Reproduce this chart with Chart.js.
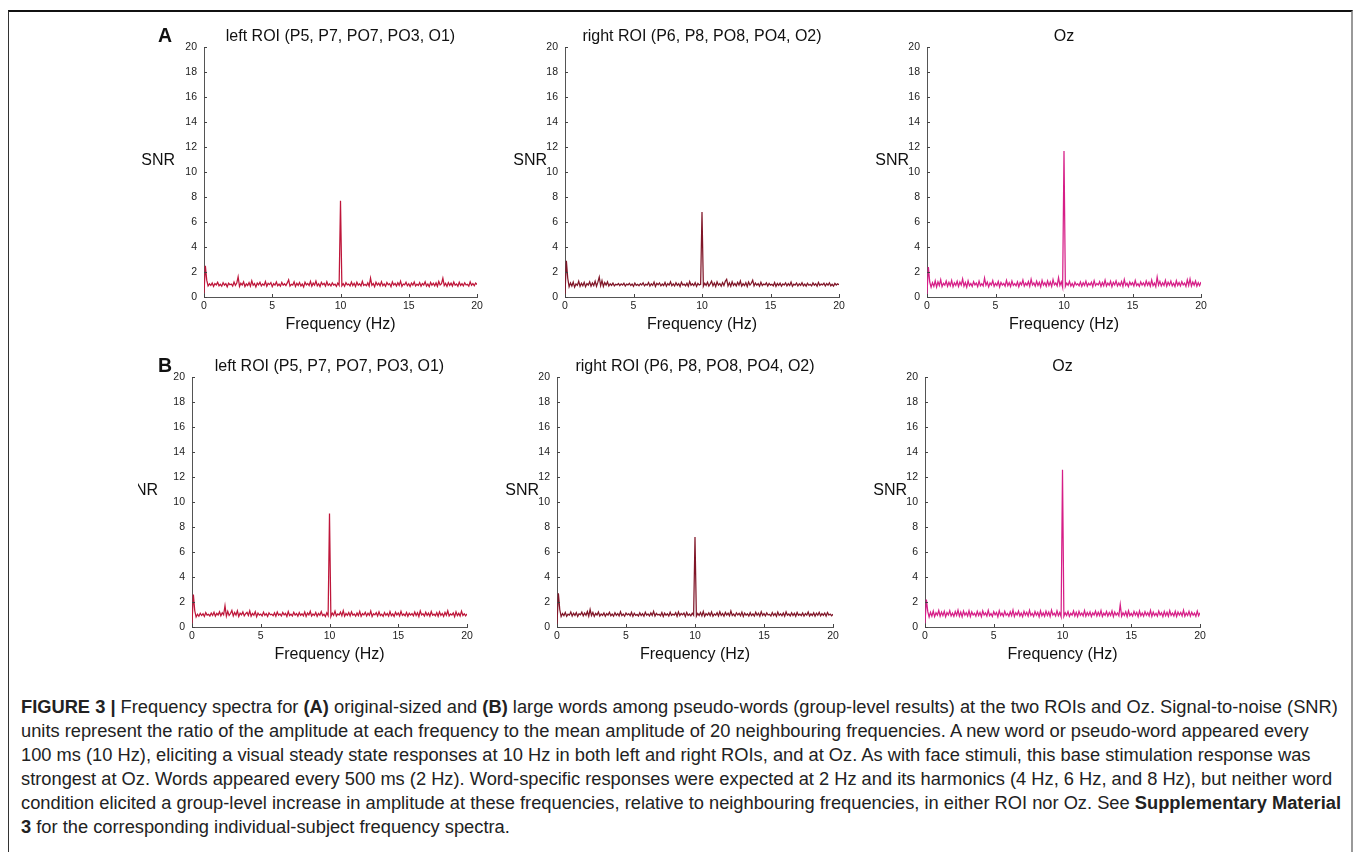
<!DOCTYPE html>
<html>
<head>
<meta charset="utf-8">
<script src="https://cdn.jsdelivr.net/npm/chart.js@4.4.1/dist/chart.umd.min.js"></script>
<style>
  body { margin: 0; width: 1358px; height: 852px; position: relative; overflow: hidden; background: #fff;
         font-family: "Liberation Sans", Arial, Helvetica, sans-serif; color: #111; }
  #frame { position: absolute; left: 8px; top: 10px; width: 1345px; height: 900px;
           border-top: 2px solid #111; border-left: 1px solid #333; border-right: 2px solid #999; box-sizing: border-box; }
  canvas { position: absolute; }
  .lbl { position: absolute; white-space: nowrap; }
  .cap { position: absolute; left: 21px; font-size: 18.3px; line-height: 18px; white-space: nowrap; color: #222; }
  .cap b { font-weight: bold; }
</style>
</head>
<body>
<div id="frame"></div>

<div class="cap" style="top:698px"><b>FIGURE 3 |</b> Frequency spectra for <b>(A)</b> original-sized and <b>(B)</b> large words among pseudo-words (group-level results) at the two ROIs and Oz. Signal-to-noise (SNR)</div>
<div class="cap" style="top:722px">units represent the ratio of the amplitude at each frequency to the mean amplitude of 20 neighbouring frequencies. A new word or pseudo-word appeared every</div>
<div class="cap" style="top:746px">100 ms (10 Hz), eliciting a visual steady state responses at 10 Hz in both left and right ROIs, and at Oz. As with face stimuli, this base stimulation response was</div>
<div class="cap" style="top:770px">strongest at Oz. Words appeared every 500 ms (2 Hz). Word-specific responses were expected at 2 Hz and its harmonics (4 Hz, 6 Hz, and 8 Hz), but neither word</div>
<div class="cap" style="top:794px">condition elicited a group-level increase in amplitude at these frequencies, relative to neighbouring frequencies, in either ROI nor Oz. See <b>Supplementary Material</b></div>
<div class="cap" style="top:818px"><b>3</b> for the corresponding individual-subject frequency spectra.</div>

<script>
// frequency bins are 0.1 Hz apart, 0 .. 20 Hz
const FREQ_STEP = 0.1;
const xTickValues = [0, 5, 10, 15, 20];
const yMax = 20;

const panelTitles = [
  'left ROI (P5, P7, PO7, PO3, O1)', 'right ROI (P6, P8, PO8, PO4, O2)', 'Oz',
  'left ROI (P5, P7, PO7, PO3, O1)', 'right ROI (P6, P8, PO8, PO4, O2)', 'Oz'
];

// SNR, row A (original-sized words)
const snrLeftA = [
  0.30, 2.50, 1.35, 0.88, 1.05, 0.92, 1.12, 0.85, 1.08, 0.97, 1.18, 0.90, 1.02, 0.86, 1.15, 0.95, 1.07, 0.82, 1.10, 0.98,
  1.04, 0.88, 1.20, 0.93, 1.12, 1.62, 0.85, 1.10, 0.96, 1.22, 0.84, 1.05, 0.92, 1.16, 0.87, 1.30, 0.94, 1.08, 0.81, 1.12,
  0.97, 1.18, 0.89, 1.05, 0.93, 1.24, 0.86, 1.09, 0.99, 1.15, 0.83, 1.07, 0.95, 1.20, 0.90, 1.03, 0.87, 1.17, 0.94, 1.06,
  0.91, 1.13, 1.38, 0.88, 1.02, 0.96, 1.21, 0.85, 1.10, 0.93, 1.16, 0.89, 1.04, 0.80, 1.19, 0.97, 1.08, 0.92, 1.25, 0.86,
  1.11, 0.95, 1.28, 0.90, 1.06, 0.84, 1.17, 0.98, 1.09, 0.87, 1.22, 0.93, 1.05, 0.88, 1.14, 0.96, 1.03, 0.85, 1.12, 0.94,
  7.70, 0.90, 1.07, 0.86, 1.15, 0.97, 1.04, 0.89, 1.20, 0.92, 1.10, 0.84, 1.18, 0.95, 1.06, 0.88, 1.26, 0.93, 1.02, 0.90,
  1.13, 0.87, 1.52, 0.94, 1.08, 0.82, 1.19, 0.96, 1.11, 0.89, 1.23, 0.91, 1.05, 0.86, 1.16, 0.98, 1.07, 0.83, 1.21, 0.95,
  1.09, 0.88, 1.14, 0.93, 1.27, 0.85, 1.04, 0.97, 1.18, 0.90, 1.06, 0.84, 1.12, 0.95, 1.20, 0.89, 1.03, 0.92, 1.15, 0.87,
  1.08, 0.96, 1.22, 0.88, 1.05, 0.83, 1.17, 0.94, 1.10, 0.90, 1.13, 0.86, 1.24, 0.97, 1.06, 1.50, 0.91, 1.09, 0.85, 1.16,
  0.93, 1.11, 0.88, 1.20, 0.95, 1.04, 0.86, 1.18, 0.92, 1.07, 0.89, 1.14, 0.96, 1.02, 0.87, 1.21, 0.94, 1.08, 0.90, 1.12,
  1.00
];
const snrRightA = [
  0.20, 2.90, 1.50, 0.82, 1.12, 0.88, 1.20, 0.79, 1.05, 0.93, 1.26, 0.85, 1.10, 0.90, 1.18, 0.83, 1.08, 0.96, 1.22, 0.87,
  1.13, 0.92, 1.27, 0.86, 1.19, 1.60, 0.90, 1.31, 0.84, 1.15, 0.95, 1.21, 0.88, 1.06, 0.93, 1.12, 0.89, 1.02, 0.97, 1.08,
  0.91, 1.05, 0.95, 1.10, 0.88, 1.03, 0.97, 1.09, 0.92, 1.04, 0.86, 1.12, 0.94, 1.01, 0.90, 1.07, 0.96, 1.14, 0.89, 1.03,
  0.95, 1.16, 0.87, 1.06, 0.93, 1.20, 0.85, 1.09, 0.98, 1.13, 0.89, 1.04, 0.92, 1.17, 0.86, 1.08, 0.95, 1.22, 0.90, 1.05,
  0.88, 1.14, 0.93, 1.07, 0.84, 1.19, 0.96, 1.03, 0.90, 1.11, 0.87, 1.24, 0.94, 1.06, 0.91, 1.15, 0.85, 1.09, 0.97, 1.02,
  6.80, 0.86, 1.10, 0.93, 1.18, 0.88, 1.05, 1.27, 0.90, 1.12, 0.84, 1.21, 0.95, 1.08, 0.87, 1.16, 0.92, 1.25, 1.42, 0.89,
  1.14, 0.86, 1.22, 0.93, 1.09, 0.88, 1.17, 0.95, 1.28, 0.87, 1.06, 0.91, 1.15, 0.84, 1.20, 0.96, 1.10, 1.35, 0.89, 1.12,
  0.94, 1.07, 0.86, 1.18, 0.92, 1.04, 0.97, 1.13, 0.88, 1.09, 0.95, 1.02, 0.90, 1.16, 0.85, 1.08, 0.93, 1.11, 0.87, 1.05,
  0.96, 1.14, 0.89, 1.07, 0.92, 1.19, 0.86, 1.03, 0.95, 1.12, 0.88, 1.06, 0.93, 1.15, 0.90, 1.04, 0.87, 1.10, 0.94, 1.01,
  0.89, 1.13, 0.95, 1.06, 0.86, 1.17, 0.92, 1.03, 0.97, 1.11, 0.88, 1.07, 0.94, 1.14, 0.90, 1.02, 0.87, 1.09, 0.96, 1.05,
  0.98
];
const snrOzA = [
  0.25, 2.40, 1.20, 0.78, 1.15, 0.85, 1.30, 0.80, 1.22, 0.92, 1.38, 0.83, 1.10, 0.95, 1.28, 0.86, 1.18, 0.90, 1.33, 0.82,
  1.14, 0.93, 1.26, 0.84, 1.20, 0.96, 1.45, 0.87, 1.16, 0.79, 1.29, 0.91, 1.08, 0.85, 1.23, 0.97, 1.12, 0.83, 1.27, 0.90,
  1.06, 0.88, 1.52, 0.94, 1.19, 0.81, 1.13, 0.96, 1.31, 0.86, 1.10, 0.92, 1.25, 0.80, 1.17, 0.95, 1.09, 0.87, 1.34, 0.91,
  1.15, 0.84, 1.28, 0.93, 1.07, 0.89, 1.21, 0.82, 1.16, 0.97, 1.36, 0.88, 1.11, 0.94, 1.24, 0.85, 1.42, 0.96, 1.13, 0.87,
  1.26, 0.92, 1.18, 0.80, 1.33, 0.95, 1.14, 0.86, 1.29, 0.91, 1.20, 0.84, 1.39, 0.97, 1.12, 0.89, 1.55, 0.93, 1.22, 0.78,
  11.70, 0.85, 1.12, 0.94, 1.25, 0.88, 1.09, 0.83, 1.18, 0.96, 1.06, 0.90, 1.21, 0.86, 1.14, 0.93, 1.27, 0.87, 1.10, 0.95,
  1.19, 0.84, 1.31, 0.92, 1.08, 0.97, 1.23, 0.85, 1.16, 0.90, 1.35, 0.88, 1.12, 0.94, 1.26, 0.82, 1.17, 0.96, 1.29, 0.89,
  1.13, 0.91, 1.24, 0.86, 1.40, 0.93, 1.11, 0.84, 1.20, 0.97, 1.15, 0.88, 1.32, 0.92, 1.07, 0.85, 1.22, 0.95, 1.14, 0.89,
  1.28, 0.94, 1.18, 0.87, 1.36, 0.90, 1.12, 0.83, 1.60, 0.96, 1.25, 0.88, 1.14, 0.92, 1.33, 0.86, 1.19, 0.95, 1.27, 0.90,
  1.11, 0.84, 1.30, 0.93, 1.16, 0.89, 1.24, 0.96, 1.12, 0.85, 1.37, 0.92, 1.45, 0.88, 1.20, 0.94, 1.28, 0.86, 1.15, 0.91,
  1.20
];

// SNR, row B (large words)
const snrLeftB = [
  0.30, 2.60, 1.30, 0.80, 1.02, 0.86, 1.10, 0.92, 1.06, 0.84, 1.15, 0.95, 1.01, 0.88, 1.12, 0.93, 1.18, 0.87, 1.09, 0.96,
  1.22, 0.90, 1.14, 0.97, 1.70, 0.86, 1.25, 0.93, 1.08, 1.33, 0.88, 1.16, 0.95, 1.29, 0.84, 1.11, 0.98, 1.21, 0.89, 1.06,
  1.17, 0.92, 1.30, 0.87, 1.09, 0.95, 1.23, 0.83, 1.12, 0.96, 1.04, 0.89, 1.19, 0.93, 1.07, 0.85, 1.14, 0.98, 1.02, 0.90,
  1.13, 0.86, 1.20, 0.94, 1.05, 0.88, 1.16, 0.97, 1.09, 0.84, 1.24, 0.92, 1.03, 0.89, 1.18, 0.95, 1.08, 0.87, 1.15, 0.93,
  1.06, 0.90, 1.21, 0.85, 1.12, 0.97, 1.26, 0.88, 1.04, 0.93, 1.17, 0.86, 1.09, 0.95, 1.23, 0.91, 1.02, 0.84, 1.14, 0.92,
  9.10, 0.83, 1.11, 0.94, 1.27, 0.88, 1.05, 0.96, 1.19, 0.90, 1.31, 0.86, 1.08, 0.93, 1.16, 0.89, 1.22, 0.95, 1.04, 0.87,
  1.13, 0.91, 1.25, 0.85, 1.07, 0.96, 1.18, 0.88, 1.10, 0.93, 1.28, 0.84, 1.06, 0.97, 1.15, 0.89, 1.21, 0.92, 1.03, 0.86,
  1.16, 0.94, 1.09, 0.87, 1.23, 0.91, 1.05, 0.85, 1.19, 0.96, 1.12, 0.88, 1.26, 0.93, 1.04, 0.90, 1.17, 0.86, 1.10, 0.95,
  1.07, 0.89, 1.20, 0.92, 1.14, 0.84, 1.29, 0.96, 1.06, 0.88, 1.18, 0.93, 1.11, 0.87, 1.24, 0.95, 1.03, 0.90, 1.15, 0.86,
  1.21, 0.92, 1.08, 0.85, 1.17, 0.94, 1.30, 0.88, 1.05, 0.96, 1.13, 0.83, 1.22, 0.91, 1.09, 0.87, 1.27, 0.93, 1.06, 0.89,
  1.05
];
const snrRightB = [
  0.20, 2.70, 1.40, 0.84, 1.08, 0.91, 1.17, 0.86, 1.03, 0.95, 1.21, 0.88, 1.10, 0.93, 1.15, 0.85, 1.06, 0.97, 1.19, 0.89,
  1.12, 0.94, 1.24, 0.87, 1.40, 0.92, 1.16, 0.85, 1.09, 0.96, 1.20, 0.88, 1.05, 0.93, 1.13, 0.86, 1.07, 0.95, 1.18, 0.90,
  1.03, 0.87, 1.15, 0.94, 1.08, 0.89, 1.22, 0.91, 1.04, 0.86, 1.12, 0.97, 1.06, 0.90, 1.17, 0.85, 1.10, 0.93, 1.01, 0.88,
  1.14, 0.92, 1.07, 0.86, 1.19, 0.95, 1.05, 0.89, 1.13, 0.93, 1.25, 0.87, 1.09, 0.96, 1.02, 0.90, 1.16, 0.84, 1.11, 0.94,
  1.06, 0.88, 1.18, 0.92, 1.03, 0.95, 1.14, 0.86, 1.21, 0.91, 1.08, 0.97, 1.12, 0.85, 1.17, 0.93, 1.04, 0.89, 1.10, 0.94,
  7.20, 0.87, 1.09, 0.93, 1.16, 0.89, 1.24, 0.85, 1.07, 0.95, 1.13, 0.90, 1.20, 0.86, 1.05, 0.94, 1.15, 0.88, 1.22, 0.92,
  1.08, 0.86, 1.17, 0.95, 1.11, 0.89, 1.28, 0.92, 1.04, 0.87, 1.14, 0.96, 1.09, 0.90, 1.19, 0.85, 1.12, 0.94, 1.06, 0.88,
  1.15, 0.91, 1.05, 0.87, 1.18, 0.94, 1.10, 0.86, 1.23, 0.93, 1.07, 0.89, 1.13, 0.96, 1.02, 0.88, 1.16, 0.92, 1.08, 0.85,
  1.19, 0.93, 1.06, 0.90, 1.12, 0.87, 1.21, 0.95, 1.04, 0.89, 1.15, 0.92, 1.09, 0.86, 1.17, 0.94, 1.03, 0.91, 1.13, 0.87,
  1.08, 0.95, 1.20, 0.88, 1.05, 0.92, 1.14, 0.86, 1.10, 0.94, 1.18, 0.89, 1.07, 0.93, 1.12, 0.87, 1.16, 0.95, 1.04, 0.90,
  1.02
];
const snrOzB = [
  0.30, 2.20, 1.25, 0.80, 1.18, 0.87, 1.28, 0.83, 1.14, 0.95, 1.32, 0.86, 1.20, 0.91, 1.26, 0.82, 1.16, 0.96, 1.30, 0.88,
  1.12, 0.85, 1.24, 0.93, 1.35, 0.87, 1.19, 0.81, 1.27, 0.94, 1.15, 0.88, 1.30, 0.84, 1.21, 0.96, 1.10, 0.86, 1.25, 0.92,
  1.17, 0.83, 1.29, 0.95, 1.13, 0.88, 1.34, 0.90, 1.08, 0.85, 1.23, 0.97, 1.16, 0.82, 1.31, 0.93, 1.11, 0.87, 1.26, 0.94,
  1.09, 0.86, 1.22, 0.91, 1.36, 0.84, 1.15, 0.96, 1.28, 0.89, 1.12, 0.83, 1.25, 0.95, 1.18, 0.87, 1.33, 0.92, 1.10, 0.85,
  1.24, 0.94, 1.17, 0.81, 1.30, 0.90, 1.13, 0.86, 1.27, 0.93, 1.19, 0.84, 1.35, 0.96, 1.11, 0.88, 1.29, 0.91, 1.16, 0.82,
  12.60, 0.86, 1.14, 0.92, 1.23, 0.85, 1.10, 0.95, 1.28, 0.88, 1.17, 0.83, 1.25, 0.94, 1.12, 0.89, 1.31, 0.86, 1.15, 0.93,
  1.21, 0.84, 1.13, 0.96, 1.27, 0.88, 1.18, 0.91, 1.32, 0.85, 1.11, 0.94, 1.24, 0.87, 1.16, 0.92, 1.29, 0.83, 1.20, 0.95,
  1.12, 0.89, 1.80, 0.86, 1.14, 0.93, 1.22, 0.84, 1.30, 0.91, 1.09, 0.87, 1.25, 0.95, 1.17, 0.82, 1.28, 0.90, 1.12, 0.86,
  1.23, 0.94, 1.15, 0.88, 1.33, 0.85, 1.19, 0.92, 1.10, 0.87, 1.27, 0.96, 1.14, 0.83, 1.24, 0.90, 1.18, 0.86, 1.31, 0.93,
  1.12, 0.88, 1.26, 0.84, 1.20, 0.95, 1.16, 0.89, 1.34, 0.86, 1.13, 0.92, 1.25, 0.87, 1.19, 0.94, 1.11, 0.85, 1.28, 0.90,
  1.15
];

// panel placement: plot area edges in page pixels, SNR label right edge and left clip
const panels = [
  { series: snrLeftA,  color: 'rgb(190, 22, 58)',  left: 204, right: 477,  top: 42,  bottom: 297, snrRight: 175, clip: 0 },
  { series: snrRightA, color: 'rgb(128, 22, 40)',  left: 565, right: 839,  top: 42,  bottom: 297, snrRight: 547, clip: 0 },
  { series: snrOzA,    color: 'rgb(214, 30, 135)', left: 927, right: 1201, top: 42,  bottom: 297, snrRight: 909, clip: 0 },
  { series: snrLeftB,  color: 'rgb(190, 22, 58)',  left: 192, right: 467,  top: 372, bottom: 627, snrRight: 158, clip: 138 },
  { series: snrRightB, color: 'rgb(128, 22, 40)',  left: 557, right: 833,  top: 372, bottom: 627, snrRight: 539, clip: 0 },
  { series: snrOzB,    color: 'rgb(214, 30, 135)', left: 925, right: 1200, top: 372, bottom: 627, snrRight: 907, clip: 0 }
];

const PAD_L = 40, PAD_R = 14, PAD_T = 8, PAD_B = 24;

// MATLAB style ticks pointing into the axes
const inwardTicks = {
  id: 'inwardTicks',
  afterDraw(chart) {
    const { ctx, chartArea: a, scales: { x, y } } = chart;
    ctx.save();
    ctx.strokeStyle = '#444';
    ctx.lineWidth = 1;
    ctx.beginPath();
    x.ticks.forEach(t => {
      const px = Math.round(x.getPixelForValue(t.value)) + 0.5;
      ctx.moveTo(px, a.bottom);
      ctx.lineTo(px, a.bottom - 3);
    });
    y.ticks.forEach(t => {
      const py = Math.round(y.getPixelForValue(t.value)) + 0.5;
      ctx.moveTo(a.left, py);
      ctx.lineTo(a.left + 3, py);
    });
    ctx.stroke();
    ctx.restore();
  }
};

function addLabel(text, css, parent) {
  const d = document.createElement('div');
  d.className = 'lbl';
  d.textContent = text;
  Object.assign(d.style, css);
  (parent || document.body).appendChild(d);
  return d;
}

const tickFont = { family: '"Liberation Sans", Arial, sans-serif', size: 10.5 };

panels.forEach((p, i) => {
  const w = p.right - p.left, h = p.bottom - p.top;
  const cv = document.createElement('canvas');
  cv.width = w + PAD_L + PAD_R;
  cv.height = h + PAD_T + PAD_B;
  cv.style.left = (p.left - PAD_L) + 'px';
  cv.style.top = (p.top - PAD_T) + 'px';
  document.body.appendChild(cv);

  new Chart(cv, {
    type: 'line',
    data: {
      datasets: [{
        data: p.series.map((v, k) => ({ x: k * FREQ_STEP, y: v })),
        borderColor: p.color,
        borderWidth: 1.25,
        pointRadius: 0,
        tension: 0,
        fill: false
      }]
    },
    options: {
      responsive: false,
      animation: false,
      devicePixelRatio: 1,
      layout: { padding: { left: 0, right: PAD_R, top: PAD_T, bottom: 0 } },
      plugins: { legend: { display: false }, tooltip: { enabled: false } },
      scales: {
        x: {
          type: 'linear', min: 0, max: 20,
          afterBuildTicks: s => { s.ticks = xTickValues.map(v => ({ value: v })); },
          afterFit: s => { s.height = PAD_B; },
          ticks: { font: tickFont, color: '#222', padding: 3, maxRotation: 0 },
          grid: { drawOnChartArea: false, drawTicks: false },
          border: { display: true, color: '#555', width: 1 }
        },
        y: {
          min: 0, max: yMax,
          afterFit: s => { s.width = PAD_L; },
          ticks: { stepSize: 2, font: tickFont, color: '#222', padding: 7 },
          grid: { drawOnChartArea: false, drawTicks: false },
          border: { display: true, color: '#555', width: 1 }
        }
      }
    },
    plugins: [inwardTicks]
  });

  // panel title, x title and SNR label
  const cx = (p.left + p.right) / 2;
  addLabel(panelTitles[i], { left: (cx - 150) + 'px', width: '300px', textAlign: 'center',
    top: (p.top - 14) + 'px', fontSize: '16px', lineHeight: '16px' });
  addLabel('Frequency (Hz)', { left: (cx - 100) + 'px', width: '200px', textAlign: 'center',
    top: (p.bottom + 18.5) + 'px', fontSize: '16px', lineHeight: '16px' });

  // the SNR label of the lower left panel is cut by the figure edge
  const box = document.createElement('div');
  const boxLeft = p.clip || (p.snrRight - 40);
  Object.assign(box.style, { position: 'absolute', overflow: 'hidden', left: boxLeft + 'px',
    top: (p.top + 110) + 'px', width: (p.snrRight - boxLeft) + 'px', height: '20px' });
  document.body.appendChild(box);
  addLabel('SNR', { right: '0px', top: '0px', fontSize: '16px', lineHeight: '16px' }, box);
});

addLabel('A', { left: '158px', top: '25.5px', fontSize: '19.5px', lineHeight: '19.5px', fontWeight: 'bold' });
addLabel('B', { left: '158px', top: '355.5px', fontSize: '19.5px', lineHeight: '19.5px', fontWeight: 'bold' });
</script>
</body>
</html>
